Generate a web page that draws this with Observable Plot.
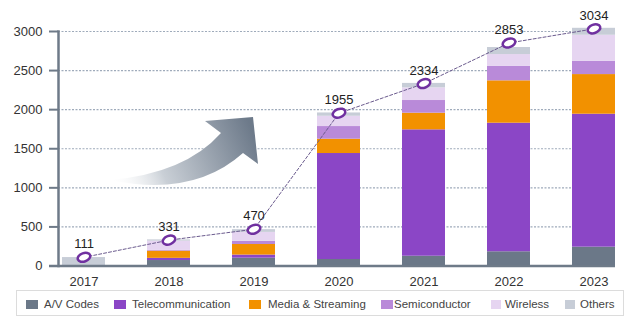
<!DOCTYPE html>
<html>
<head>
<meta charset="utf-8">
<script src="https://cdn.jsdelivr.net/npm/d3@7"></script>
<script src="https://cdn.jsdelivr.net/npm/@observablehq/plot@0.6"></script>
<style>
  body { margin: 0; background: white; font-family: "Liberation Sans", Arial, sans-serif; }
  #wrap { position: relative; width: 640px; height: 329px; }
  #legend { position: absolute; left: 16px; top: 290px; width: 608px; height: 26px; border: 1px solid #dcdcdc; box-sizing: border-box; }
  .sw { position: absolute; top: 9px; height: 9px; }
  .lt { position: absolute; top: 5px; font-size: 11.5px; color: #444; line-height: 16px; white-space: nowrap; }
</style>
</head>
<body>
<div id="wrap"></div>
<script>
const years = ["2017", "2018", "2019", "2020", "2021", "2022", "2023"];
const seriesNames = ["A/V Codes", "Telecommunication", "Media & Streaming", "Semiconductor", "Wireless", "Others"];
const seriesColors = ["#6b7888", "#8b46c6", "#f29100", "#b98ad9", "#e6d5f1", "#c7cdd7"];
const avCodes   = [0, 70, 100, 83, 125, 182, 241];
const telecom   = [0, 28, 40, 1356, 1617, 1645, 1701];
const media     = [0, 92, 135, 183, 213, 542, 507];
const semi      = [0, 10, 40, 162, 162, 187, 171];
const wireless  = [0, 118, 115, 132, 162, 149, 332];
const others    = [108, 16, 35, 42, 57, 90, 89];
const totals    = [111, 331, 470, 1955, 2334, 2853, 3034];
const yTicks = [0, 500, 1000, 1500, 2000, 2500, 3000];
const gridTicks = [500, 1000, 1500, 2000, 2500, 3000];

const seriesValues = [avCodes, telecom, media, semi, wireless, others];
const stackData = [];
years.forEach((yr, i) => {
  seriesNames.forEach((s, k) => stackData.push({year: yr, series: s, value: seriesValues[k][i]}));
});
const totalsData = years.map((yr, i) => ({year: yr, total: totals[i]}));

const axisColor = "#6e7a88";
const plot = Plot.plot({
  width: 640, height: 290,
  marginLeft: 58, marginRight: 20, marginTop: 31, marginBottom: 24.5,
  style: {fontFamily: "'Liberation Sans', Arial, sans-serif", fontSize: "13px", color: "#333", background: "white", overflow: "visible"},
  x: {domain: years, paddingInner: 0.49, paddingOuter: 0.05, label: null},
  y: {domain: [0, 3000], label: null},
  color: {domain: seriesNames, range: seriesColors},
  marks: [
    Plot.gridY({ticks: gridTicks, stroke: "#9fabbb", strokeOpacity: 1, strokeDasharray: "2,1.5", strokeWidth: 1.2, insetRight: 5}),
    Plot.barY(stackData, {x: "year", y: "value", fill: "series"}),
    Plot.ruleY([0], {stroke: axisColor, strokeWidth: 2.5, insetLeft: -9, insetRight: 5}),
    Plot.frame({anchor: "left", stroke: axisColor, strokeWidth: 2.5}),
    Plot.axisY({ticks: yTicks, tickFormat: d => String(d), tickSize: 9, tickPadding: 7, stroke: axisColor, strokeWidth: 2, fill: "#333", fontSize: 13, label: null}),
    Plot.axisX({tickSize: 0, tickPadding: 11, fontSize: 13, fill: "#333", label: null}),
    Plot.line(totalsData, {x: "year", y: "total", stroke: "#6b5b8e", strokeWidth: 1, strokeDasharray: "3,2"}),
    Plot.dot(totalsData, {x: "year", y: "total", r: 5, stroke: "#7030a0", strokeWidth: 2.5, fill: "white"}),
    Plot.text(totalsData, {x: "year", y: "total", text: d => String(d.total), dy: -13, fontSize: 13, fill: "#222"})
  ]
});

// decorative curved arrow
const NS = "http://www.w3.org/2000/svg";
const defs = document.createElementNS(NS, "defs");
defs.innerHTML = `<linearGradient id="arrGrad" x1="110" y1="185" x2="250" y2="125" gradientUnits="userSpaceOnUse">
  <stop offset="0" stop-color="#ffffff" stop-opacity="0"/>
  <stop offset="0.35" stop-color="#c9cfd6"/>
  <stop offset="1" stop-color="#6d7a8a"/>
</linearGradient>`;
plot.insertBefore(defs, plot.firstChild);
const arrow = document.createElementNS(NS, "path");
arrow.setAttribute("d", "M110,180 Q185,173.5 221,133 L205,121 L253,117 L258,164 L243,153 Q193.5,197.5 110,180 Z");
arrow.setAttribute("fill", "url(#arrGrad)");
const barG = plot.querySelector('g[aria-label="bar"]');
if (barG) plot.insertBefore(arrow, barG); else plot.appendChild(arrow);

// ring markers as tilted ellipses
plot.querySelectorAll('g[aria-label="dot"] circle').forEach(c => {
  const e = document.createElementNS(NS, "ellipse");
  const cx = c.getAttribute("cx"), cy = c.getAttribute("cy");
  e.setAttribute("cx", cx); e.setAttribute("cy", cy);
  e.setAttribute("rx", 6.5); e.setAttribute("ry", 4.2);
  e.setAttribute("transform", `rotate(-20 ${cx} ${cy})`);
  c.parentNode.replaceChild(e, c);
});

const wrap = document.getElementById("wrap");
wrap.appendChild(plot);

// legend
const legend = document.createElement("div");
legend.id = "legend";
const swLeft = [9, 97, 232, 364, 474, 548];
const swWidth = [12, 12, 12, 12, 10, 10];
const txLeft = [27, 115, 251, 377, 488, 563];
seriesNames.forEach((s, k) => {
  const sw = document.createElement("div");
  sw.className = "sw";
  sw.style.left = swLeft[k] + "px";
  sw.style.width = swWidth[k] + "px";
  sw.style.background = seriesColors[k];
  legend.appendChild(sw);
  const t = document.createElement("div");
  t.className = "lt";
  t.style.left = txLeft[k] + "px";
  t.textContent = s;
  legend.appendChild(t);
});
wrap.appendChild(legend);
</script>
</body>
</html>
